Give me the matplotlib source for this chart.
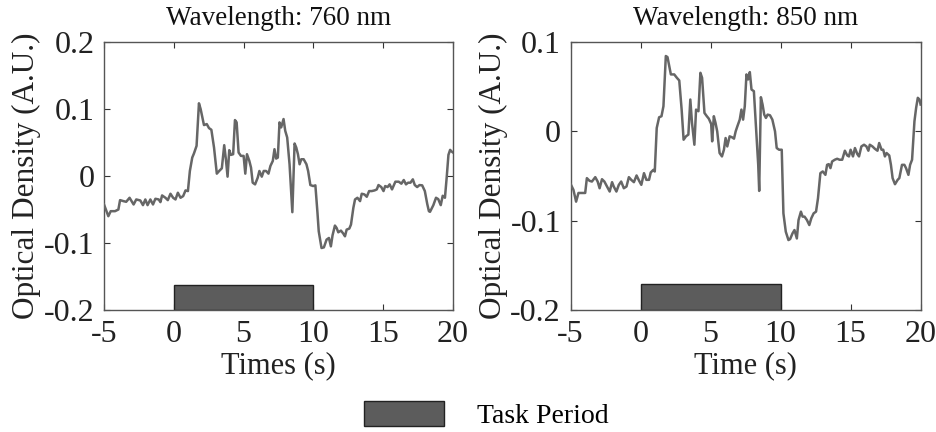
import numpy as np
import matplotlib
matplotlib.use("Agg")
import matplotlib.pyplot as plt
from matplotlib.patches import Patch

plt.rcParams['font.family'] = ['Liberation Serif', 'DejaVu Serif']

# 760 nm channel
t_760 = [-5.00, -4.69, -4.52, -4.21, -3.97, -3.85, -3.61, -3.41, -3.17, -2.88,
         -2.69, -2.40, -2.21, -2.04, -1.88, -1.68, -1.49, -1.32, -1.08, -0.96,
         -0.84, -0.60, -0.43, -0.24, -0.05, 0.12, 0.29, 0.48, 0.67, 0.84,
         1.01, 1.15, 1.32, 1.44, 1.63, 1.80, 1.92, 2.16, 2.36, 2.52,
         2.69, 2.88, 3.08, 3.25, 3.44, 3.61, 3.73, 3.85, 3.97, 4.09,
         4.25, 4.38, 4.50, 4.64, 4.81, 5.00, 5.12, 5.24, 5.41, 5.53,
         5.65, 5.82, 6.01, 6.13, 6.30, 6.44, 6.61, 6.78, 6.92, 7.09,
         7.21, 7.33, 7.45, 7.57, 7.69, 7.86, 7.98, 8.12, 8.29, 8.49,
         8.65, 8.77, 8.89, 9.01, 9.13, 9.30, 9.50, 9.62, 9.78, 9.98,
         10.14, 10.29, 10.38, 10.58, 10.75, 10.94, 11.11, 11.25, 11.37, 11.54,
         11.66, 11.78, 11.97, 12.14, 12.26, 12.38, 12.57, 12.69, 12.86, 12.98,
         13.15, 13.34, 13.46, 13.65, 13.82, 13.99, 14.18, 14.38, 14.54, 14.66,
         14.86, 15.02, 15.14, 15.31, 15.46, 15.63, 15.87, 16.11, 16.30, 16.47,
         16.63, 16.78, 16.95, 17.12, 17.26, 17.43, 17.60, 17.79, 17.98, 18.15,
         18.27, 18.35, 18.59, 18.78, 18.94, 19.12, 19.26, 19.42, 19.55, 19.67,
         19.79, 19.90, 20.00]
od_760 = [-0.0425, -0.0600, -0.0525, -0.0525, -0.0500, -0.0360, -0.0375, -0.0385, -0.0325, -0.0425,
          -0.0350, -0.0365, -0.0435, -0.0350, -0.0435, -0.0350, -0.0425, -0.0340, -0.0350, -0.0390,
          -0.0290, -0.0325, -0.0360, -0.0265, -0.0325, -0.0350, -0.0250, -0.0325, -0.0300, -0.0215,
          -0.0225, 0.0075, 0.0275, 0.0335, 0.0450, 0.1085, 0.1000, 0.0760, 0.0775, 0.0715,
          0.0690, 0.0425, 0.0035, 0.0075, 0.0115, 0.0460, 0.0250, -0.0010, 0.0385, 0.0315,
          0.0325, 0.0835, 0.0800, 0.0350, 0.0300, 0.0300, 0.0035, 0.0325, 0.0225, 0.0125,
          -0.0100, -0.0125, -0.0025, 0.0075, -0.0010, 0.0075, 0.0075, 0.0035, 0.0150, 0.0225,
          0.0400, 0.0260, 0.0275, 0.0800, 0.0725, 0.0850, 0.0675, 0.0575, 0.0175, -0.0540,
          0.0485, 0.0425, 0.0325, 0.0175, 0.0250, 0.0250, 0.0175, 0.0075, -0.0135, -0.0150,
          -0.0140, -0.0550, -0.0825, -0.1075, -0.1065, -0.0950, -0.0925, -0.1050, -0.0885, -0.0740,
          -0.0775, -0.0840, -0.0815, -0.0860, -0.0900, -0.0800, -0.0785, -0.0725, -0.0475, -0.0350,
          -0.0325, -0.0375, -0.0265, -0.0275, -0.0310, -0.0225, -0.0225, -0.0215, -0.0200, -0.0135,
          -0.0165, -0.0225, -0.0150, -0.0165, -0.0125, -0.0200, -0.0085, -0.0085, -0.0115, -0.0060,
          -0.0125, -0.0100, -0.0100, -0.0050, -0.0135, -0.0165, -0.0135, -0.0140, -0.0225, -0.0415,
          -0.0525, -0.0535, -0.0435, -0.0325, -0.0345, -0.0435, -0.0295, -0.0325, -0.0010, 0.0315,
          0.0390, 0.0365, 0.0350]

# 850 nm channel
t_850 = [-5.00, -4.80, -4.61, -4.44, -4.20, -3.96, -3.84, -3.65, -3.48, -3.24,
         -3.07, -2.93, -2.76, -2.59, -2.40, -2.21, -2.04, -1.92, -1.73, -1.56,
         -1.39, -1.20, -1.01, -0.84, -0.67, -0.48, -0.29, -0.12, 0.05, 0.24,
         0.41, 0.60, 0.72, 0.91, 1.01, 1.15, 1.32, 1.49, 1.63, 1.80,
         1.92, 2.16, 2.40, 2.59, 2.76, 2.93, 3.07, 3.24, 3.41, 3.55,
         3.67, 3.84, 3.96, 4.13, 4.27, 4.39, 4.56, 4.73, 4.87, 5.04,
         5.11, 5.23, 5.35, 5.47, 5.64, 5.81, 5.95, 6.07, 6.19, 6.36,
         6.53, 6.67, 6.79, 6.91, 7.08, 7.20, 7.32, 7.44, 7.56, 7.68,
         7.80, 7.92, 8.09, 8.23, 8.40, 8.47, 8.59, 8.71, 8.83, 8.95,
         9.07, 9.24, 9.41, 9.60, 9.72, 9.89, 10.08, 10.20, 10.37, 10.56,
         10.68, 10.85, 10.99, 11.16, 11.28, 11.45, 11.57, 11.71, 11.88, 12.05,
         12.19, 12.36, 12.53, 12.67, 12.84, 13.01, 13.20, 13.32, 13.44, 13.56,
         13.68, 13.87, 14.04, 14.21, 14.40, 14.59, 14.76, 14.88, 15.00, 15.17,
         15.31, 15.48, 15.60, 15.77, 15.96, 16.13, 16.27, 16.37, 16.56, 16.73,
         16.92, 17.04, 17.21, 17.33, 17.45, 17.57, 17.76, 17.88, 18.00, 18.17,
         18.36, 18.48, 18.67, 18.84, 18.96, 19.13, 19.25, 19.39, 19.56, 19.68,
         19.80, 19.92, 20.00]
od_850 = [-0.0590, -0.0655, -0.0787, -0.0690, -0.0690, -0.0690, -0.0524, -0.0554, -0.0562, -0.0513,
          -0.0562, -0.0637, -0.0536, -0.0562, -0.0618, -0.0674, -0.0569, -0.0618, -0.0674, -0.0600,
          -0.0562, -0.0637, -0.0618, -0.0513, -0.0543, -0.0569, -0.0494, -0.0550, -0.0599, -0.0468,
          -0.0543, -0.0543, -0.0461, -0.0431, -0.0450, 0.0037, 0.0157, 0.0169, 0.0281, 0.0843,
          0.0831, 0.0637, 0.0637, 0.0599, 0.0569, 0.0243, -0.0094, -0.0056, -0.0037, 0.0356,
          0.0094, -0.0150, 0.0243, 0.0225, 0.0655, 0.0599, 0.0206, 0.0169, 0.0142, 0.0082,
          -0.0112, 0.0169, 0.0094, 0.0000, -0.0243, -0.0281, -0.0206, -0.0075, -0.0169, -0.0056,
          -0.0067, -0.0082, 0.0000, 0.0056, 0.0131, 0.0243, 0.0131, 0.0281, 0.0637, 0.0581,
          0.0663, 0.0468, 0.0449, 0.0075, -0.0375, -0.0667, 0.0382, 0.0300, 0.0187, 0.0150,
          0.0187, 0.0180, 0.0131, 0.0000, -0.0187, -0.0206, -0.0206, -0.0918, -0.1124, -0.1217,
          -0.1206, -0.1142, -0.1105, -0.1199, -0.0993, -0.0899, -0.0955, -0.0955, -0.0993, -0.1049,
          -0.0974, -0.0918, -0.0899, -0.0749, -0.0468, -0.0449, -0.0487, -0.0375, -0.0367, -0.0412,
          -0.0337, -0.0318, -0.0307, -0.0318, -0.0318, -0.0217, -0.0270, -0.0281, -0.0206, -0.0281,
          -0.0187, -0.0255, -0.0281, -0.0169, -0.0150, -0.0169, -0.0217, -0.0150, -0.0169, -0.0195,
          -0.0217, -0.0131, -0.0206, -0.0206, -0.0281, -0.0243, -0.0270, -0.0375, -0.0524, -0.0592,
          -0.0543, -0.0524, -0.0375, -0.0375, -0.0412, -0.0487, -0.0375, -0.0318, 0.0112, 0.0262,
          0.0375, 0.0356, 0.0300]

task_start, task_end = 0, 10
bar_top = [-0.163, -0.171]
titles = ['Wavelength: 760 nm', 'Wavelength: 850 nm']
xlabels = ['Times (s)', 'Time (s)']
ylims = [(-0.2, 0.2), (-0.2, 0.1)]
xticks = [-5, 0, 5, 10, 15, 20]

fig = plt.figure(figsize=(9.37, 4.32), dpi=100)
ax1 = fig.add_axes([0.111, 0.2824, 0.3725, 0.6204])
ax2 = fig.add_axes([0.609, 0.2824, 0.3735, 0.6204])

line_col = '#666666'
bar_col = '#5c5c5c'
series = [(t_760, od_760), (t_850, od_850)]

for i, ax in enumerate([ax1, ax2]):
    t, od = series[i]
    lo, hi = ylims[i]
    ax.bar(task_start, bar_top[i] - lo, width=task_end - task_start, bottom=lo,
           align='edge', color=bar_col, edgecolor='#222222', linewidth=1.0, zorder=2)
    ax.plot(t, od, color=line_col, lw=1.8, zorder=3)
    ax.set_xlim(-5, 20)
    ax.set_ylim(lo, hi)
    ax.set_xticks(xticks)
    ax.set_xticklabels([str(v) for v in xticks])
    yt = np.round(np.arange(lo, hi + 0.001, 0.1), 1)
    ax.set_yticks(yt)
    ax.set_yticklabels(['0' if v == 0 else '%.1f' % v for v in yt])
    ax.tick_params(direction='in', top=True, right=True, length=4, width=0.8,
                   colors='#333333', labelcolor='#222222', labelsize=23, pad=7)
    for s in ax.spines.values():
        s.set_color('#555555')
        s.set_linewidth(1.0)
    ax.set_title(titles[i], fontsize=19.5, pad=12, color='#111111')
    ax.set_xlabel(xlabels[i], fontsize=22, color='#222222', labelpad=2)
    ax.set_ylabel('Optical Density (A.U.)', fontsize=22.5, color='#222222', labelpad=2)

task_patch = Patch(facecolor=bar_col, edgecolor='#222222', linewidth=1.0)
fig.legend(handles=[task_patch], labels=['Task Period'], loc='center',
           bbox_to_anchor=(0.519, 0.039), frameon=False, fontsize=20,
           handlelength=2.9, handleheight=1.0, handletextpad=1.2)

fig.savefig('out.png', dpi=100)
